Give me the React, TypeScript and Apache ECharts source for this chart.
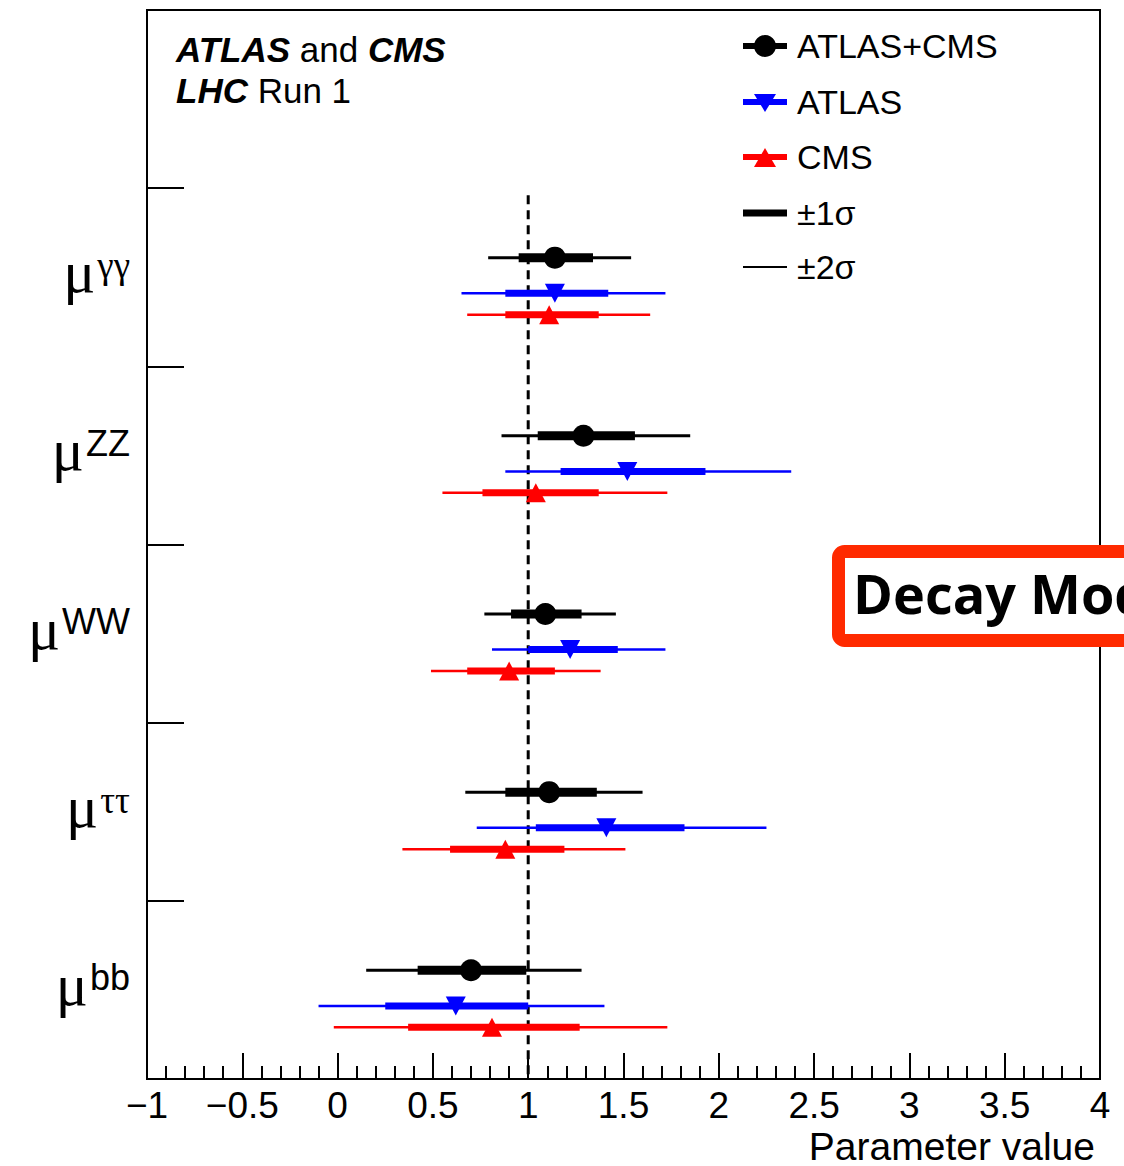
import React, { useEffect, useRef } from "react";
import * as echarts from "echarts";

// Decay channels, listed from the top band of the plot to the bottom one
const channels = ["γγ", "ZZ", "WW", "ττ", "bb"];
const greekChannels = ["γγ", "ττ"];

// ATLAS+CMS combination: best fit and ±1σ / ±2σ intervals
const combCenter = [1.14, 1.29, 1.09, 1.11, 0.7];
const combLo1 = [0.95, 1.05, 0.91, 0.88, 0.42];
const combHi1 = [1.34, 1.56, 1.28, 1.36, 0.99];
const combLo2 = [0.79, 0.86, 0.77, 0.67, 0.15];
const combHi2 = [1.54, 1.85, 1.46, 1.6, 1.28];

// ATLAS alone
const atlasCenter = [1.14, 1.52, 1.22, 1.41, 0.62];
const atlasLo1 = [0.88, 1.17, 1.0, 1.04, 0.25];
const atlasHi1 = [1.42, 1.93, 1.47, 1.82, 1.0];
const atlasLo2 = [0.65, 0.88, 0.81, 0.73, -0.1];
const atlasHi2 = [1.72, 2.38, 1.72, 2.25, 1.4];

// CMS alone
const cmsCenter = [1.11, 1.04, 0.9, 0.88, 0.81];
const cmsLo1 = [0.88, 0.76, 0.68, 0.59, 0.37];
const cmsHi1 = [1.37, 1.37, 1.14, 1.19, 1.27];
const cmsLo2 = [0.68, 0.55, 0.49, 0.34, -0.02];
const cmsHi2 = [1.64, 1.73, 1.38, 1.51, 1.73];

// x axis range and Standard Model reference
const xMin = -1;
const xMax = 4;
const smValue = 1;

const SANS = "'Liberation Sans', Arial, Helvetica, sans-serif";
const SERIF = "'Liberation Serif', 'Times New Roman', serif";

type Group = {
  name: string;
  color: string;
  symbol: string;
  rotate: number;
  size: number | number[];
  offset: number; // vertical position inside a channel band
  thin: number;
  thick: number;
  center: number[];
  lo1: number[];
  hi1: number[];
  lo2: number[];
  hi2: number[];
};

const groups: Group[] = [
  {
    name: "ATLAS+CMS",
    color: "#000000",
    symbol: "circle",
    rotate: 0,
    size: 22,
    offset: 0.61,
    thin: 3,
    thick: 9,
    center: combCenter,
    lo1: combLo1,
    hi1: combHi1,
    lo2: combLo2,
    hi2: combHi2,
  },
  {
    name: "ATLAS",
    color: "#0000ff",
    symbol: "triangle",
    rotate: 180,
    size: [20, 19],
    offset: 0.41,
    thin: 2.5,
    thick: 7,
    center: atlasCenter,
    lo1: atlasLo1,
    hi1: atlasHi1,
    lo2: atlasLo2,
    hi2: atlasHi2,
  },
  {
    name: "CMS",
    color: "#ff0000",
    symbol: "triangle",
    rotate: 0,
    size: [20, 19],
    offset: 0.29,
    thin: 2.5,
    thick: 7,
    center: cmsCenter,
    lo1: cmsLo1,
    hi1: cmsHi1,
    lo2: cmsLo2,
    hi2: cmsHi2,
  },
];

// band index from the bottom of the plot: bb = 0 ... γγ = 4, empty top band = 5
const bandBase = (i: number) => channels.length - 1 - i;

function buildOption(): echarts.EChartsOption {
  const axisCategories = [...channels].reverse().concat([""]);

  const series: any[] = [
    {
      type: "line",
      xAxisIndex: 0,
      yAxisIndex: 1,
      data: [
        [smValue, 4.96],
        [smValue, 0],
      ],
      symbol: "none",
      silent: true,
      z: 1,
      lineStyle: { color: "#000", width: 3, type: [9, 6] },
    },
  ];

  groups.forEach((g) => {
    series.push({
      type: "custom",
      name: g.name + " bars",
      xAxisIndex: 0,
      yAxisIndex: 1,
      z: 2,
      encode: { x: [0, 1, 2, 3], y: 4 },
      data: channels.map((_, i) => [g.lo2[i], g.hi2[i], g.lo1[i], g.hi1[i], bandBase(i) + g.offset]),
      renderItem: (params: any, api: any) => {
        const y = api.value(4);
        const a = api.coord([api.value(0), y]);
        const b = api.coord([api.value(1), y]);
        const c = api.coord([api.value(2), y]);
        const d = api.coord([api.value(3), y]);
        return {
          type: "group",
          children: [
            {
              type: "line",
              shape: { x1: a[0], y1: a[1], x2: b[0], y2: b[1] },
              style: { stroke: g.color, lineWidth: g.thin, lineCap: "butt" },
            },
            {
              type: "line",
              shape: { x1: c[0], y1: c[1], x2: d[0], y2: d[1] },
              style: { stroke: g.color, lineWidth: g.thick, lineCap: "butt" },
            },
          ],
        };
      },
    });
    series.push({
      type: "scatter",
      name: g.name,
      xAxisIndex: 0,
      yAxisIndex: 1,
      z: 3,
      symbol: g.symbol,
      symbolRotate: g.rotate,
      symbolSize: g.size,
      itemStyle: { color: g.color, opacity: 1 },
      data: channels.map((_, i) => [g.center[i], bandBase(i) + g.offset]),
    });
  });

  // legend rows drawn by hand: line, marker and label
  const legendX1 = 743;
  const legendX2 = 787;
  const legendMid = 765;
  const legendText = 797;
  const rows = [46, 102, 157, 213, 267];
  const graphic: any[] = [];
  const addLine = (y: number, color: string, w: number) =>
    graphic.push({
      type: "line",
      shape: { x1: legendX1, y1: y, x2: legendX2, y2: y },
      style: { stroke: color, lineWidth: w },
      z: 10,
    });
  const addText = (y: number, text: string) =>
    graphic.push({
      type: "text",
      x: legendText,
      y,
      z: 10,
      style: {
        text,
        fill: "#000",
        fontSize: 34,
        fontFamily: SANS,
        verticalAlign: "middle",
        align: "left",
      },
    });
  addLine(rows[0], "#000", 6);
  graphic.push({ type: "circle", shape: { cx: legendMid, cy: rows[0], r: 11 }, style: { fill: "#000" }, z: 11 });
  addText(rows[0], "ATLAS+CMS");
  addLine(rows[1], "#0000ff", 6);
  graphic.push({
    type: "polygon",
    shape: { points: [[754, rows[1] - 8], [776, rows[1] - 8], [765, rows[1] + 10]] },
    style: { fill: "#0000ff" },
    z: 11,
  });
  addText(rows[1], "ATLAS");
  addLine(rows[2], "#ff0000", 6);
  graphic.push({
    type: "polygon",
    shape: { points: [[754, rows[2] + 10], [776, rows[2] + 10], [765, rows[2] - 9]] },
    style: { fill: "#ff0000" },
    z: 11,
  });
  addText(rows[2], "CMS");
  addLine(rows[3], "#000", 7);
  addText(rows[3], "±1σ");
  addLine(rows[4], "#000", 2);
  addText(rows[4], "±2σ");

  // experiment / run tag
  const tagRich = {
    bi: { fontStyle: "italic", fontWeight: "bold", fontSize: 35, fontFamily: SANS, fill: "#000" },
    r: { fontSize: 35, fontFamily: SANS, fill: "#000" },
  };
  graphic.push({
    type: "text",
    x: 176,
    y: 49,
    z: 10,
    style: { text: "{bi|ATLAS}{r| and }{bi|CMS}", rich: tagRich, verticalAlign: "middle", align: "left" },
  });
  graphic.push({
    type: "text",
    x: 176,
    y: 90,
    z: 10,
    style: { text: "{bi|LHC}{r| Run 1}", rich: tagRich, verticalAlign: "middle", align: "left" },
  });

  // x axis title
  graphic.push({
    type: "text",
    x: 1095,
    y: 1146,
    z: 10,
    style: {
      text: "Parameter value",
      fill: "#000",
      fontSize: 39,
      fontFamily: SANS,
      align: "right",
      verticalAlign: "middle",
    },
  });

  // section badge on the right edge
  graphic.push({
    type: "rect",
    z: 20,
    shape: { x: 838.5, y: 551.5, width: 400, height: 89, r: 6 },
    style: { fill: "#ffffff", stroke: "#ff2a00", lineWidth: 13 },
  });
  graphic.push({
    type: "text",
    z: 21,
    x: 853,
    y: 593,
    style: {
      text: "Decay Mode",
      fill: "#000",
      fontSize: 54,
      fontWeight: "bold",
      fontFamily: "'Open Sans', 'Noto Sans', sans-serif",
      verticalAlign: "middle",
      align: "left",
    },
  });

  // μ with a raised channel superscript
  const labelRich = {
    mu: { fontFamily: SERIF, fontSize: 60, lineHeight: 60, color: "#000", padding: [0, 2, 10, 0] },
    gk: { fontFamily: SERIF, fontSize: 37, lineHeight: 23, color: "#000", verticalAlign: "top" },
    lt: { fontFamily: SANS, fontSize: 36, lineHeight: 43, color: "#000", verticalAlign: "top" },
  };

  return {
    animation: false,
    backgroundColor: "#ffffff",
    grid: {
      left: 147,
      right: 24,
      top: 10,
      bottom: 87,
      show: true,
      borderColor: "#000",
      borderWidth: 2,
      backgroundColor: "transparent",
    },
    xAxis: {
      type: "value",
      min: xMin,
      max: xMax,
      interval: 0.5,
      axisLine: { show: true, onZero: false, lineStyle: { color: "#000", width: 2 } },
      axisTick: { show: true, inside: true, length: 26, lineStyle: { color: "#000", width: 2 } },
      minorTick: { show: true, splitNumber: 5, length: 13, lineStyle: { color: "#000", width: 2 } },
      splitLine: { show: false },
      minorSplitLine: { show: false },
      axisLabel: {
        show: true,
        color: "#000",
        fontSize: 37,
        fontFamily: SANS,
        margin: 8,
        showMinLabel: true,
        showMaxLabel: true,
        formatter: (v: number) => String(v).replace("-", "\u2212"),
      },
    },
    yAxis: [
      {
        type: "category",
        data: axisCategories,
        boundaryGap: true,
        axisLine: { show: true, onZero: false, lineStyle: { color: "#000", width: 2 } },
        axisTick: { show: true, inside: true, length: 37, interval: 0, lineStyle: { color: "#000", width: 2 } },
        splitLine: { show: false },
        axisLabel: {
          show: true,
          margin: 17,
          interval: 0,
          formatter: (v: string) => {
            if (!v) return "";
            const key = greekChannels.includes(v) ? "gk" : "lt";
            return `{mu|μ}{${key}|${v}}`;
          },
          rich: labelRich as any,
        },
      },
      {
        type: "value",
        min: 0,
        max: 6,
        show: false,
      },
    ],
    series,
    graphic,
  };
}

export default function App() {
  const ref = useRef<HTMLDivElement>(null);
  useEffect(() => {
    if (!ref.current) return;
    const chart = echarts.init(ref.current, null, { renderer: "svg" });
    chart.setOption(buildOption());
    return () => chart.dispose();
  }, []);
  return (
    <div
      ref={ref}
      style={{ position: "absolute", left: 0, top: 0, width: 1124, height: 1166, background: "#fff" }}
    />
  );
}
